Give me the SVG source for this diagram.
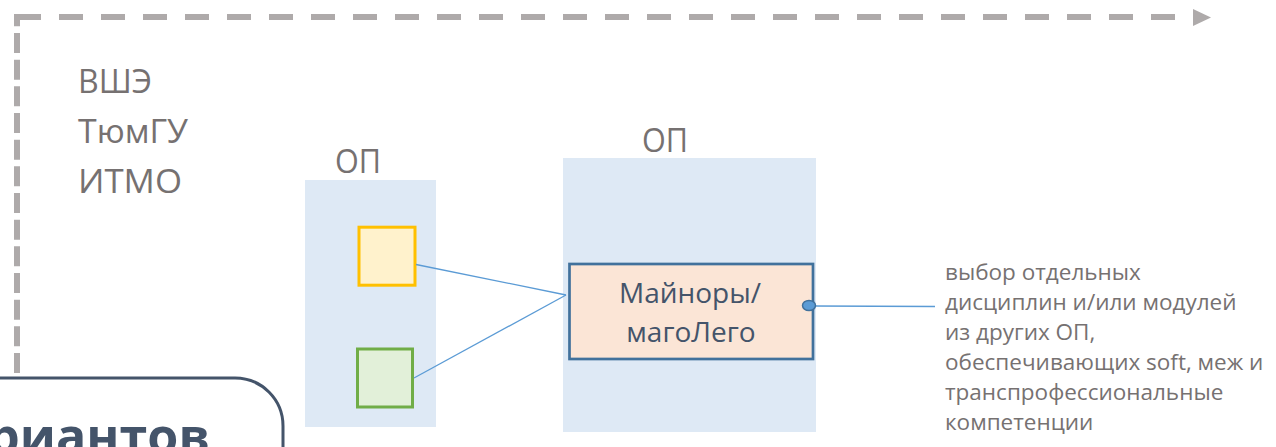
<svg xmlns="http://www.w3.org/2000/svg" width="1276" height="447" viewBox="0 0 1276 447">
<style>
.gray{font-family:"Open Sans","Liberation Sans",sans-serif;fill:#767171}
.big{font-size:32px}
.small{font-size:22.5px}
.op{fill:#dee9f5}
.conn{stroke:#5b9bd5;stroke-width:1.3;fill:none}
.dash{stroke:#aeaaaa;stroke-width:6;fill:none}
</style>
<rect width="1276" height="447" fill="#ffffff"/>
<g id="universities">
  <text class="gray big" x="78" y="93" textLength="74" lengthAdjust="spacingAndGlyphs">ВШЭ</text>
  <text class="gray big" x="78" y="143" textLength="110" lengthAdjust="spacingAndGlyphs">ТюмГУ</text>
  <text class="gray big" x="78" y="193" textLength="104" lengthAdjust="spacingAndGlyphs">ИТМО</text>
</g>
<g id="op-left">
  <rect class="op" x="305" y="180" width="131" height="247"/>
  <text class="gray big" x="335" y="173" textLength="46" lengthAdjust="spacingAndGlyphs">ОП</text>
</g>
<g id="op-right">
  <rect class="op" x="563" y="158" width="253" height="274"/>
  <text class="gray big" x="642" y="152" textLength="46" lengthAdjust="spacingAndGlyphs">ОП</text>
</g>
<g id="module-yellow">
  <rect x="359" y="227.2" width="56" height="58" fill="#fff2cc" stroke="#ffc000" stroke-width="3"/>
</g>
<g id="module-green">
  <rect x="357.5" y="349" width="55" height="58" fill="#e2f0d9" stroke="#70ad47" stroke-width="3"/>
</g>
<g id="minors">
  <rect x="569.5" y="264" width="243.5" height="95" fill="#fbe5d6" stroke="#41719c" stroke-width="2.7"/>
  <text x="690" y="303" text-anchor="middle" font-family="Open Sans, Liberation Sans, sans-serif" font-size="28" fill="#44546a">Майноры/</text>
  <text x="691" y="342" text-anchor="middle" font-family="Open Sans, Liberation Sans, sans-serif" font-size="28" fill="#44546a">магоЛего</text>
</g>
<g id="description">
  <text class="gray small" x="945" y="279.5">выбор отдельных</text>
  <text class="gray small" x="945" y="309.5">дисциплин и/или модулей</text>
  <text class="gray small" x="945" y="339.5">из других ОП,</text>
  <text class="gray small" x="945" y="369.5">обеспечивающих soft, меж и</text>
  <text class="gray small" x="945" y="399.5">транспрофессиональные</text>
  <text class="gray small" x="945" y="429.5">компетенции</text>
</g>
<g id="title-box">
  <rect x="-80" y="378" width="363" height="160" rx="48" ry="48" fill="#ffffff" stroke="#44546a" stroke-width="3"/>
  <text x="-12" y="454" font-family="Open Sans, Liberation Sans, sans-serif" font-weight="bold" font-size="50" fill="#44546a" textLength="222" lengthAdjust="spacingAndGlyphs">риантов</text>
</g>
<g id="connectors">
  <path class="dash" d="M17,17 H1193" stroke-dasharray="24 18"/>
  <path class="dash" d="M17,373 V14" stroke-dasharray="20 6.67"/>
  <polygon points="1193,9 1211,17.5 1193,26" fill="#aeaaaa"/>
  <line class="conn" x1="416" y1="264.5" x2="566" y2="295"/>
  <line class="conn" x1="414" y1="378" x2="566" y2="295"/>
  <line class="conn" x1="812" y1="306" x2="935" y2="306.5"/>
  <ellipse cx="809" cy="305.5" rx="6.5" ry="5" fill="#5b9bd5" stroke="#41719c" stroke-width="1.5"/>
</g>
</svg>
